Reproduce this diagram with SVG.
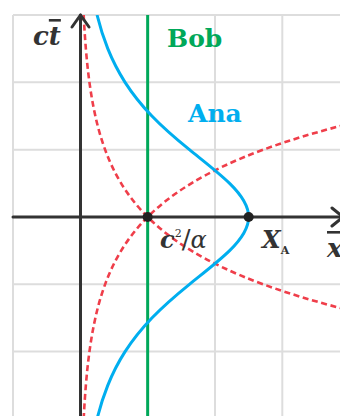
<svg xmlns="http://www.w3.org/2000/svg" width="340" height="416" viewBox="0 0 340 416">
<style>
.grid{stroke:#dddddd;stroke-width:2;fill:none}
.axis{stroke:#333333;stroke-width:3;fill:none;stroke-linecap:round;stroke-linejoin:round}
.red{stroke:#ef3e4a;stroke-width:2.6;fill:none;stroke-dasharray:6 3.6}
.blue{stroke:#00aeef;stroke-width:3;fill:none}
.green{stroke:#00a859;stroke-width:3;fill:none}
.lbl{font-family:"DejaVu Serif","Liberation Serif",serif;font-weight:bold}
.math{font-family:"DejaVu Serif","Liberation Serif",serif;font-style:italic;fill:#333333}
</style>
<defs>
<clipPath id="plot"><rect x="0" y="15" width="340" height="401"/></clipPath>
</defs>
<rect width="340" height="416" fill="#ffffff"/>
<g id="grid" class="grid">
<line x1="13" y1="15" x2="13" y2="416"/>
<line x1="215" y1="15" x2="215" y2="416"/>
<line x1="282.3" y1="15" x2="282.3" y2="416"/>
<line x1="13" y1="15" x2="340" y2="15"/>
<line x1="13" y1="82.3" x2="340" y2="82.3"/>
<line x1="13" y1="149.7" x2="340" y2="149.7"/>
<line x1="13" y1="284.3" x2="340" y2="284.3"/>
<line x1="13" y1="351.6" x2="340" y2="351.6"/>
</g>
<g id="bob" class="green"><line x1="147.66" y1="15" x2="147.66" y2="416"/></g>
<g id="connectors" clip-path="url(#plot)">
<path id="light-left" class="red" d="M83.68,15 C84.24,26.22 84.94,37.45 85.86,48.67 C86.78,59.89 87.92,71.12 89.44,82.34 C90.96,93.56 92.85,104.78 95.35,116 C97.85,127.22 100.97,138.45 105.10,149.67 C109.23,160.89 114.36,172.12 121.17,183.34 C127.98,194.56 136.44,205.78 147.66,217 C158.88,228.22 172.84,239.45 191.34,250.67 C209.84,261.89 232.85,273.11 263.35,284.33 C293.86,295.55 331.79,306.78 382.08,318"/>
<path id="light-right" class="red" d="M83.68,419 C84.24,407.78 84.94,396.55 85.86,385.33 C86.78,374.11 87.92,362.88 89.44,351.66 C90.96,340.44 92.85,329.22 95.35,318 C97.85,306.78 100.97,295.55 105.10,284.33 C109.23,273.11 114.36,261.88 121.17,250.66 C127.98,239.44 136.44,228.22 147.66,217 C158.88,205.78 172.84,194.55 191.34,183.33 C209.84,172.11 232.85,160.89 263.35,149.67 C293.86,138.45 331.79,127.22 382.08,116"/>
<path id="ana-worldline" class="blue" d="M97.05,15 C99.82,26.22 103.27,37.45 107.78,48.67 C112.29,59.89 117.88,71.12 125.07,82.34 C132.26,93.56 141.10,104.78 151.89,116 C162.69,127.22 175.57,138.45 189.42,149.67 C203.27,160.89 218.11,172.12 229.61,183.34 C241.11,194.56 248.66,205.78 248.66,217 C248.66,228.22 241.11,239.44 229.61,250.66 C218.11,261.88 203.27,273.11 189.42,284.33 C175.57,295.55 162.69,306.78 151.89,318 C141.10,329.22 132.26,340.44 125.07,351.66 C117.88,362.88 112.29,374.11 107.78,385.33 C103.27,396.55 99.82,407.78 97.05,419"/>
</g>
<g id="axes" class="axis">
<line x1="13" y1="217" x2="343" y2="217"/>
<polyline points="332,208 343,217 332,226"/>
<line x1="80.5" y1="416" x2="80.5" y2="15"/>
<polyline points="72,27 80.5,15 89,27"/>
</g>
<g id="points" fill="#222222">
<circle cx="147.66" cy="217" r="5"/>
<circle cx="248.66" cy="217" r="5"/>
</g>
<g id="labels">
<text class="math" x="33" y="45" font-size="26" font-weight="bold">c<tspan text-decoration="overline">t</tspan></text>
<text class="lbl" x="167" y="47" font-size="25" fill="#00a859">Bob</text>
<text class="lbl" x="188" y="122" font-size="25" fill="#00aeef">Ana</text>
<text class="math" x="160" y="248" font-size="24"><tspan font-weight="bold">c</tspan><tspan font-size="11" font-style="normal" dy="-11">2</tspan><tspan dy="11" font-size="26" font-style="normal">/</tspan><tspan>α</tspan></text>
<text class="math" x="262" y="248" font-size="24" font-weight="bold">X<tspan font-size="11" font-style="normal" dy="6">A</tspan></text>
<text class="math" x="327" y="257" font-size="26" font-weight="bold" text-decoration="overline">x</text>
</g>
</svg>
